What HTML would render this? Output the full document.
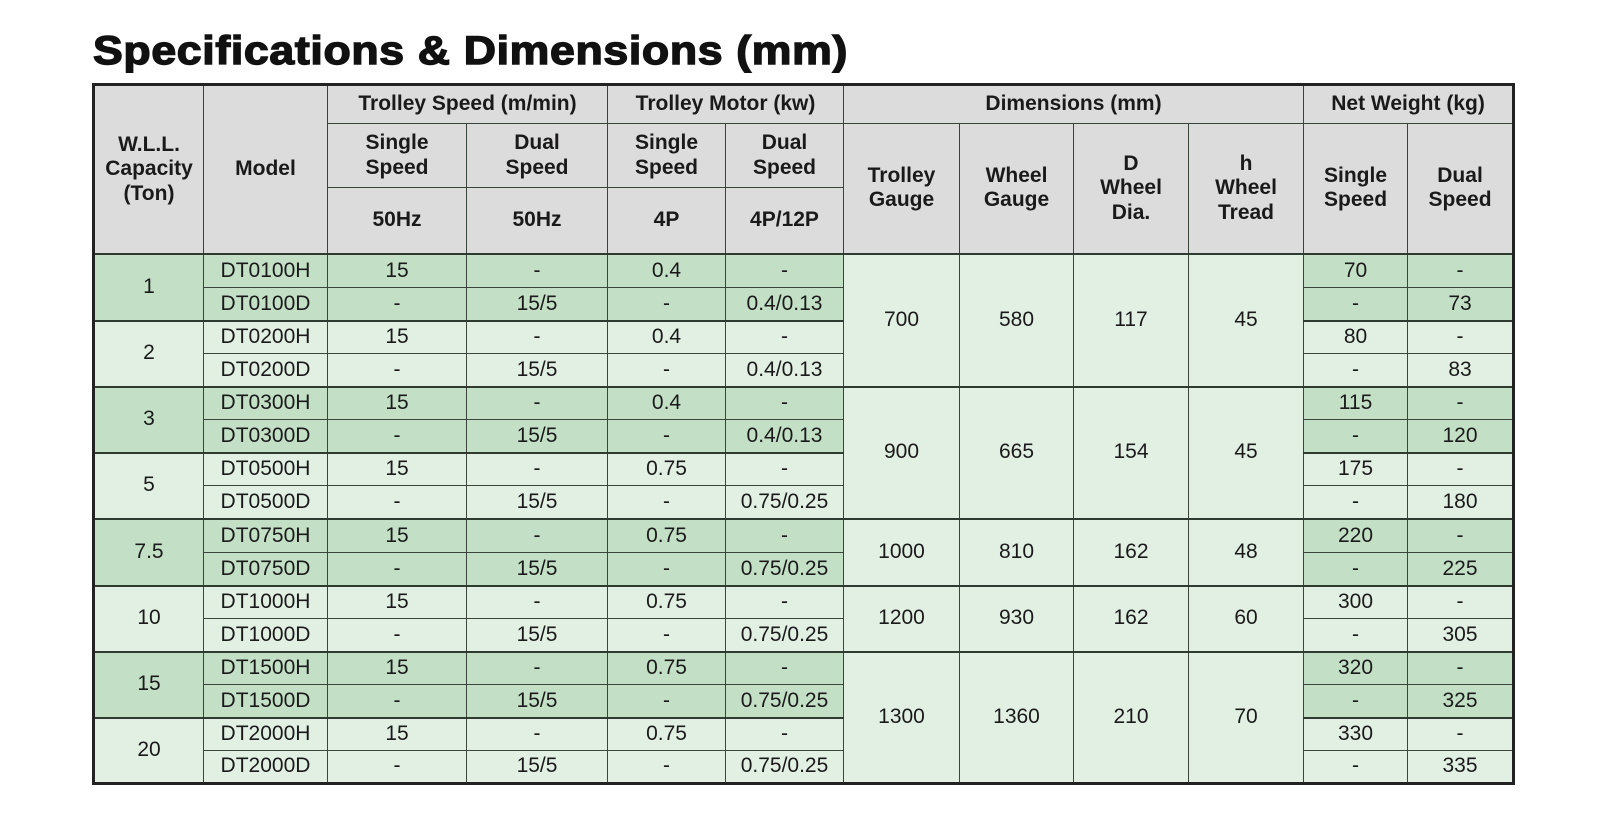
<!DOCTYPE html>
<html>
<head>
<meta charset="utf-8">
<style>
  html,body{margin:0;padding:0;background:#fff;}
  body{width:1600px;height:834px;position:relative;overflow:hidden;font-family:"Liberation Sans",Arial,sans-serif;color:#1a1a1a;}
  .title{position:absolute;left:93px;top:31px;font-size:40px;line-height:40px;font-weight:bold;letter-spacing:0.6px;color:#111;-webkit-text-stroke:1.4px #111;white-space:nowrap;transform:scaleX(1.115);transform-origin:0 0;}
  table{position:absolute;left:92px;top:83px;width:1420px;border-collapse:collapse;table-layout:fixed;border:3px solid #222;}
  td,th{padding:0;text-align:center;vertical-align:middle;border:1px solid #3a443b;font-size:21px;line-height:24.5px;}
  th{background:#dddcdc;font-weight:bold;color:#1a1a1a;}
  td{font-weight:normal;}
  .d{background:#c3e0c6;}
  .l{background:#e2f0e4;}
  tr.g td{border-top:2px solid #2f3a30;}
  tr.hb th{border-bottom:2px solid #2f3a30;}
</style>
</head>
<body>
<div class="title">Specifications &amp; Dimensions (mm)</div>
<table>
  <colgroup>
    <col style="width:110px"><col style="width:124px"><col style="width:139px"><col style="width:141px">
    <col style="width:118px"><col style="width:118px"><col style="width:116px"><col style="width:114px">
    <col style="width:115px"><col style="width:115px"><col style="width:104px"><col style="width:106px">
  </colgroup>
  <tr style="height:39px">
    <th rowspan="3">W.L.L.<br>Capacity<br>(Ton)</th>
    <th rowspan="3">Model</th>
    <th colspan="2">Trolley Speed (m/min)</th>
    <th colspan="2">Trolley Motor (kw)</th>
    <th colspan="4">Dimensions (mm)</th>
    <th colspan="2">Net Weight (kg)</th>
  </tr>
  <tr style="height:64px">
    <th>Single<br>Speed</th>
    <th>Dual<br>Speed</th>
    <th>Single<br>Speed</th>
    <th>Dual<br>Speed</th>
    <th rowspan="2">Trolley<br>Gauge</th>
    <th rowspan="2">Wheel<br>Gauge</th>
    <th rowspan="2">D<br>Wheel<br>Dia.</th>
    <th rowspan="2">h<br>Wheel<br>Tread</th>
    <th rowspan="2">Single<br>Speed</th>
    <th rowspan="2">Dual<br>Speed</th>
  </tr>
  <tr style="height:66px" class="hb">
    <th>50Hz</th><th>50Hz</th><th>4P</th><th>4P/12P</th>
  </tr>

  <tr style="height:34px" class="g">
    <td class="d" rowspan="2">1</td>
    <td class="d">DT0100H</td><td class="d">15</td><td class="d">-</td><td class="d">0.4</td><td class="d">-</td>
    <td class="l" rowspan="4">700</td><td class="l" rowspan="4">580</td><td class="l" rowspan="4">117</td><td class="l" rowspan="4">45</td>
    <td class="d">70</td><td class="d">-</td>
  </tr>
  <tr style="height:33px">
    <td class="d">DT0100D</td><td class="d">-</td><td class="d">15/5</td><td class="d">-</td><td class="d">0.4/0.13</td>
    <td class="d">-</td><td class="d">73</td>
  </tr>
  <tr style="height:33px" class="g">
    <td class="l" rowspan="2">2</td>
    <td class="l">DT0200H</td><td class="l">15</td><td class="l">-</td><td class="l">0.4</td><td class="l">-</td>
    <td class="l">80</td><td class="l">-</td>
  </tr>
  <tr style="height:33px">
    <td class="l">DT0200D</td><td class="l">-</td><td class="l">15/5</td><td class="l">-</td><td class="l">0.4/0.13</td>
    <td class="l">-</td><td class="l">83</td>
  </tr>
  <tr style="height:33px" class="g">
    <td class="d" rowspan="2">3</td>
    <td class="d">DT0300H</td><td class="d">15</td><td class="d">-</td><td class="d">0.4</td><td class="d">-</td>
    <td class="l" rowspan="4">900</td><td class="l" rowspan="4">665</td><td class="l" rowspan="4">154</td><td class="l" rowspan="4">45</td>
    <td class="d">115</td><td class="d">-</td>
  </tr>
  <tr style="height:33px">
    <td class="d">DT0300D</td><td class="d">-</td><td class="d">15/5</td><td class="d">-</td><td class="d">0.4/0.13</td>
    <td class="d">-</td><td class="d">120</td>
  </tr>
  <tr style="height:33px" class="g">
    <td class="l" rowspan="2">5</td>
    <td class="l">DT0500H</td><td class="l">15</td><td class="l">-</td><td class="l">0.75</td><td class="l">-</td>
    <td class="l">175</td><td class="l">-</td>
  </tr>
  <tr style="height:33px">
    <td class="l">DT0500D</td><td class="l">-</td><td class="l">15/5</td><td class="l">-</td><td class="l">0.75/0.25</td>
    <td class="l">-</td><td class="l">180</td>
  </tr>
  <tr style="height:34px" class="g">
    <td class="d" rowspan="2">7.5</td>
    <td class="d">DT0750H</td><td class="d">15</td><td class="d">-</td><td class="d">0.75</td><td class="d">-</td>
    <td class="l" rowspan="2">1000</td><td class="l" rowspan="2">810</td><td class="l" rowspan="2">162</td><td class="l" rowspan="2">48</td>
    <td class="d">220</td><td class="d">-</td>
  </tr>
  <tr style="height:33px">
    <td class="d">DT0750D</td><td class="d">-</td><td class="d">15/5</td><td class="d">-</td><td class="d">0.75/0.25</td>
    <td class="d">-</td><td class="d">225</td>
  </tr>
  <tr style="height:33px" class="g">
    <td class="l" rowspan="2">10</td>
    <td class="l">DT1000H</td><td class="l">15</td><td class="l">-</td><td class="l">0.75</td><td class="l">-</td>
    <td class="l" rowspan="2">1200</td><td class="l" rowspan="2">930</td><td class="l" rowspan="2">162</td><td class="l" rowspan="2">60</td>
    <td class="l">300</td><td class="l">-</td>
  </tr>
  <tr style="height:33px">
    <td class="l">DT1000D</td><td class="l">-</td><td class="l">15/5</td><td class="l">-</td><td class="l">0.75/0.25</td>
    <td class="l">-</td><td class="l">305</td>
  </tr>
  <tr style="height:33px" class="g">
    <td class="d" rowspan="2">15</td>
    <td class="d">DT1500H</td><td class="d">15</td><td class="d">-</td><td class="d">0.75</td><td class="d">-</td>
    <td class="l" rowspan="4">1300</td><td class="l" rowspan="4">1360</td><td class="l" rowspan="4">210</td><td class="l" rowspan="4">70</td>
    <td class="d">320</td><td class="d">-</td>
  </tr>
  <tr style="height:33px">
    <td class="d">DT1500D</td><td class="d">-</td><td class="d">15/5</td><td class="d">-</td><td class="d">0.75/0.25</td>
    <td class="d">-</td><td class="d">325</td>
  </tr>
  <tr style="height:33px" class="g">
    <td class="l" rowspan="2">20</td>
    <td class="l">DT2000H</td><td class="l">15</td><td class="l">-</td><td class="l">0.75</td><td class="l">-</td>
    <td class="l">330</td><td class="l">-</td>
  </tr>
  <tr style="height:33px">
    <td class="l">DT2000D</td><td class="l">-</td><td class="l">15/5</td><td class="l">-</td><td class="l">0.75/0.25</td>
    <td class="l">-</td><td class="l">335</td>
  </tr>
</table>
</body>
</html>
